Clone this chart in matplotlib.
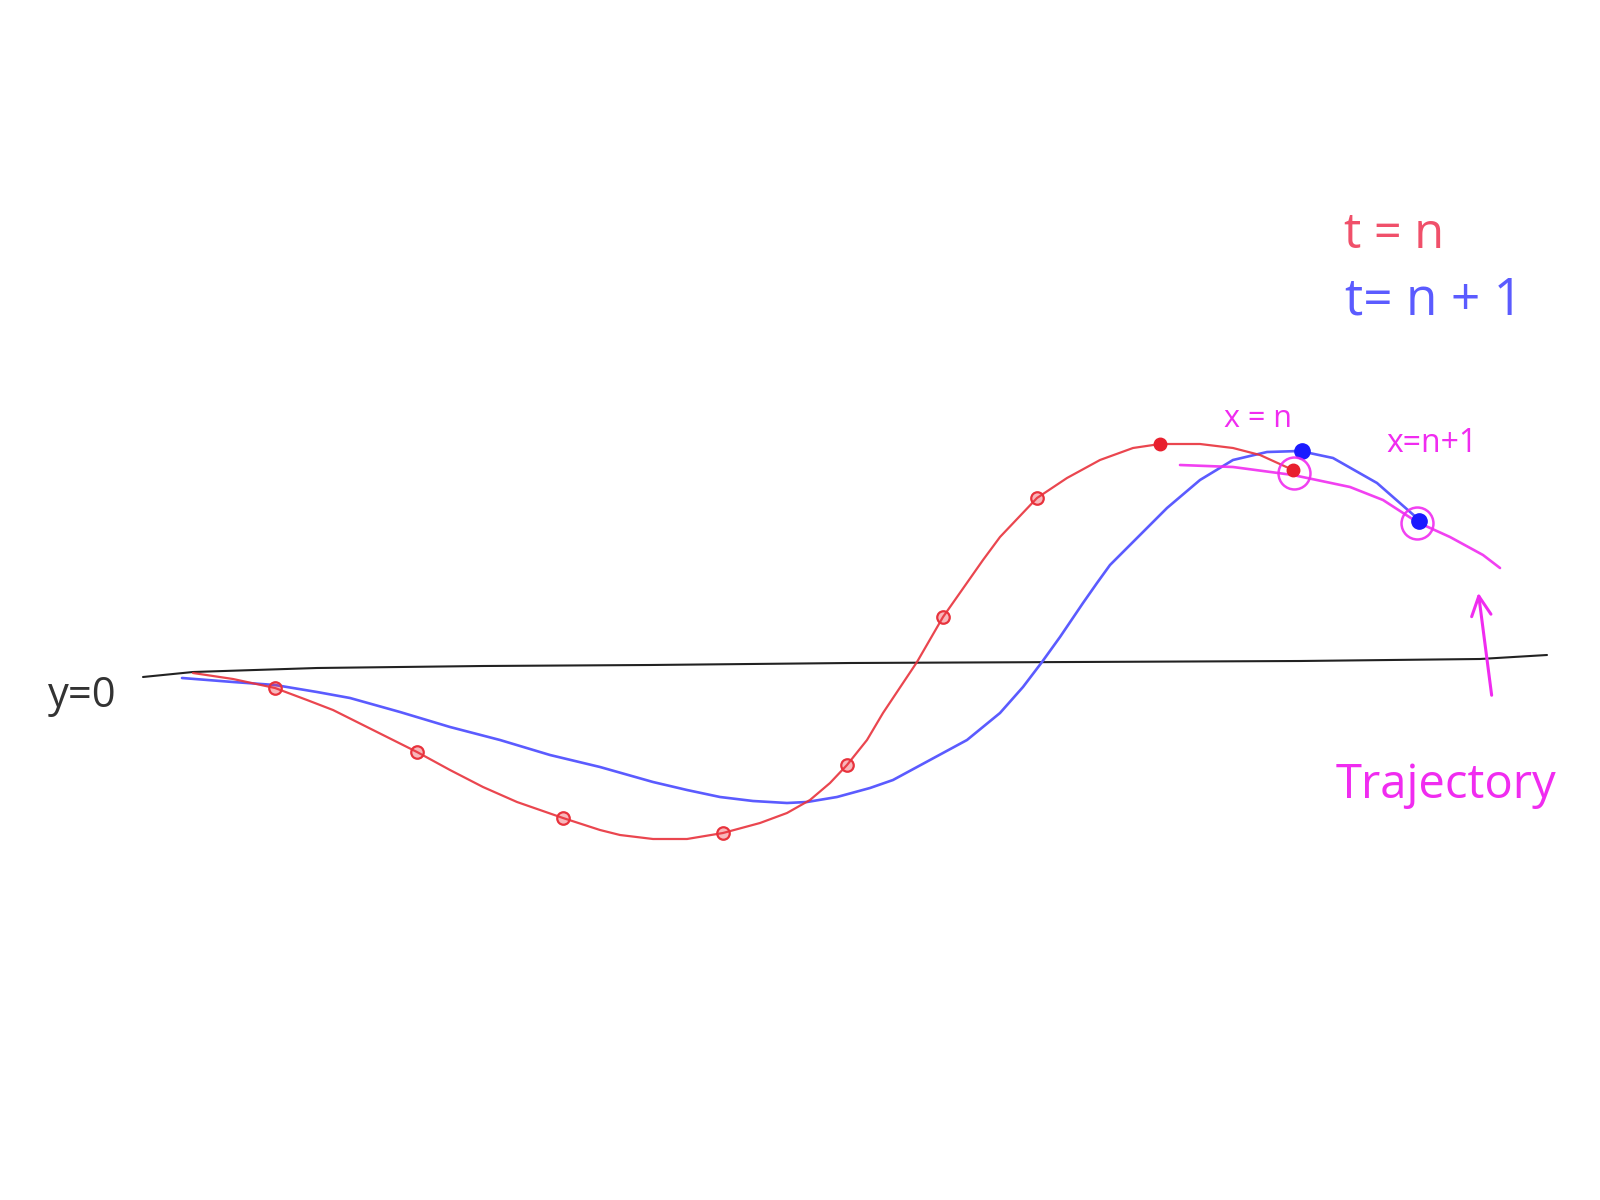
import numpy as np
import matplotlib.pyplot as plt

# y is measured upward from the drawn y=0 line, x is horizontal position
base_x = [143, 193, 317, 483, 650, 850, 1300, 1480, 1547]
base_y = [-14, -9, -5, -3, -2, 0, 2, 4, 8]

# t = n (red)
red_x = [193, 233, 275, 307, 333, 367, 417, 450, 483, 517, 563, 600, 620,
         653, 687, 723, 760, 787, 810, 830, 847, 867, 883, 917, 943, 983,
         1000, 1037, 1067, 1100, 1133, 1160, 1200, 1233, 1260, 1293]
red_y = [-10, -16, -25, -37, -47, -64, -89, -107, -124, -139, -155, -167,
         -172, -176, -176, -170, -160, -150, -137, -120, -102, -77, -50, 1,
         46, 103, 126, 165, 185, 203, 215, 219, 219, 215, 208, 193]
red_dot_x = [275, 417, 563, 723, 847, 943, 1037]
red_dot_y = [-25, -89, -155, -170, -102, 46, 165]
red_solid_x = [1160, 1293]
red_solid_y = [219, 193]

# t = n+1 (blue)
blue_x = [182, 233, 275, 317, 350, 400, 450, 500, 550, 600, 653, 687, 720,
          753, 787, 807, 837, 870, 893, 930, 967, 1000, 1023, 1042, 1060,
          1083, 1097, 1110, 1133, 1167, 1200, 1233, 1267, 1300, 1333, 1377,
          1417]
blue_y = [-15, -19, -22, -29, -35, -49, -64, -77, -92, -104, -119, -127,
          -134, -138, -140, -139, -134, -125, -117, -97, -77, -50, -24, 1,
          26, 60, 80, 98, 121, 155, 183, 203, 211, 212, 205, 180, 145]
blue_dot_x = [1302, 1419]
blue_dot_y = [212, 142]

# trajectory (magenta)
traj_x = [1180, 1233, 1293, 1350, 1383, 1417, 1450, 1483, 1500]
traj_y = [198, 196, 188, 176, 163, 141, 126, 108, 95]
ring_x = [1294, 1417]
ring_y = [190, 140]

RED = '#e8323c'
BLUE = '#5b5bff'
MAG = '#f02cf0'

fig = plt.figure(figsize=(16, 12), dpi=100)
ax = fig.add_axes([0, 0, 1, 1])
ax.set_xlim(0, 1600)
ax.set_ylim(663 - 1200, 663)
ax.axis('off')

ax.plot(base_x, base_y, color='#222222', lw=1.5, solid_capstyle='round')

ax.plot(blue_x, blue_y, color=BLUE, lw=1.9, solid_capstyle='round', solid_joinstyle='round')
ax.plot(red_x, red_y, color=RED, lw=1.6, alpha=0.9, solid_capstyle='round', solid_joinstyle='round')
ax.plot(traj_x, traj_y, color=MAG, lw=1.9, alpha=0.9, solid_capstyle='round', solid_joinstyle='round')

ax.plot(red_dot_x, red_dot_y, 'o', ms=9, mfc=(0.92, 0.2, 0.24, 0.35), mec=RED, mew=1.6)
ax.plot(red_solid_x, red_solid_y, 'o', ms=9, color='#e8202e')
ax.plot(blue_dot_x, blue_dot_y, 'o', ms=11, color='#1a1aff')
ax.plot(ring_x, ring_y, 'o', ms=23, mfc='none', mec=MAG, mew=1.8, alpha=0.9)

# arrow pointing at the trajectory
ax.annotate('', xy=(1478, 73), xytext=(1492, -35),
            arrowprops=dict(arrowstyle='->,head_length=1.4,head_width=0.7',
                            color=MAG, lw=2.2))

font = 'Open Sans'
ax.text(1344, 428, 't = n', color='#f0506a', fontsize=35, family=font,
        ha='left', va='center')
ax.text(1345, 362, 't= n + 1', color=BLUE, fontsize=37, family=font,
        ha='left', va='center')
ax.text(1258, 244, 'x = n', color=MAG, fontsize=22, family=font,
        ha='center', va='center')
ax.text(1432, 219, 'x=n+1', color=MAG, fontsize=23, family=font,
        ha='center', va='center')
ax.text(82, -44, 'y=0', color='#333333', fontsize=30, family=font,
        ha='center', va='baseline')
ax.text(1446, -135, 'Trajectory', color=MAG, fontsize=34, family=font,
        ha='center', va='baseline')

plt.savefig('out.png', dpi=100)
